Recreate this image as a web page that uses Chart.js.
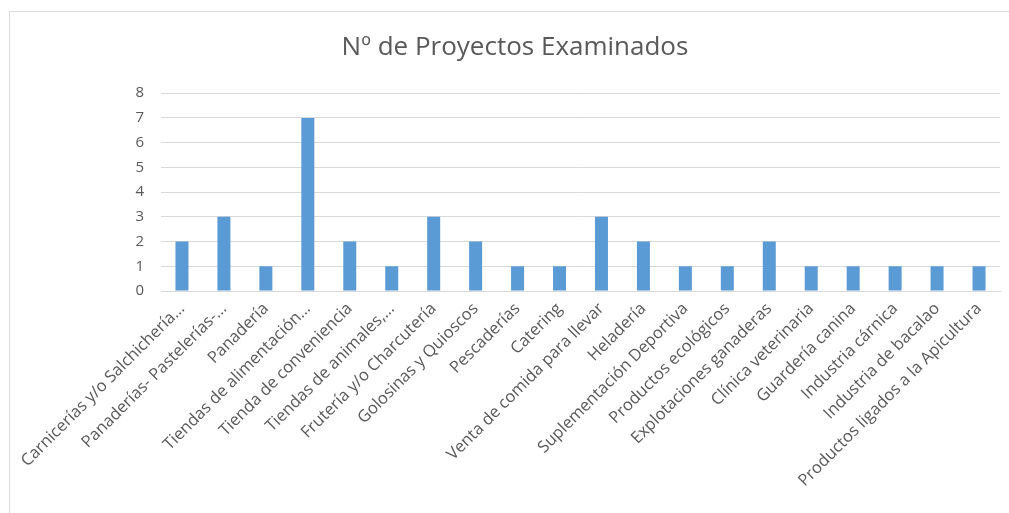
<!DOCTYPE html>
<html>
<head>
<meta charset="utf-8">
<script src="https://cdn.jsdelivr.net/npm/chart.js@4/dist/chart.umd.min.js"></script>
<style>
    body { margin: 0; background: #fff; overflow: hidden; }
    #box { position: absolute; left: 9px; top: 11px; width: 1010px; height: 510px; border: 1px solid #d9d9d9; }
    #wrap { position: absolute; left: 0; top: 0; width: 999px; height: 501px; }
</style>
</head>
<body>
<div id="box"><div id="wrap"><canvas id="chart"></canvas></div></div>
<script>
// chart data
const categories = [
    "Carnicerías y/o Salchichería…", "Panaderías- Pastelerías-…", "Panadería",
    "Tiendas de alimentación…", "Tienda de conveniencia", "Tiendas de animales,…",
    "Frutería y/o Charcutería", "Golosinas y Quioscos", "Pescaderías", "Catering",
    "Venta de comida para llevar", "Heladería", "Suplementación Deportiva",
    "Productos ecológicos", "Explotaciones ganaderas", "Clínica veterinaria",
    "Guardería canina", "Industria cárnica", "Industria de bacalao",
    "Productos ligados a la Apicultura"
];
const proyectos = [2, 3, 1, 7, 2, 1, 3, 2, 1, 1, 3, 2, 1, 1, 2, 1, 1, 1, 1, 1];
const yTicks = [0, 1, 2, 3, 4, 5, 6, 7, 8];

const FONT = "'Open Sans', 'Liberation Sans', sans-serif";
const GREY = '#595959';

new Chart(document.getElementById('chart'), {
    type: 'bar',
    data: {
        labels: categories,
        datasets: [{
            label: 'Nº de Proyectos Examinados',
            data: proyectos,
            backgroundColor: '#5b9bd5',
            barPercentage: 0.62,
            categoryPercentage: 0.5
        }]
    },
    options: {
        responsive: true,
        maintainAspectRatio: false,
        animation: false,
        // left padding pushes the title centre right, y axis width makes up for it
        layout: { padding: { left: 20, right: 9, top: 0, bottom: 0 } },
        plugins: {
            legend: { display: false },
            tooltip: { enabled: false },
            title: {
                display: true,
                text: 'Nº de Proyectos Examinados',
                color: GREY,
                font: { family: FONT, size: 26, weight: 'normal' },
                padding: { top: 20, bottom: 30 }
            }
        },
        scales: {
            x: {
                grid: { display: false, drawTicks: false },
                border: { color: '#d9d9d9' },
                ticks: {
                    color: GREY,
                    font: { family: FONT, size: 16.5 },
                    maxRotation: 45,
                    minRotation: 45,
                    autoSkip: false,
                    padding: 8
                },
                afterFit: s => { s.height = 222; }
            },
            y: {
                min: 0,
                max: 8,
                afterBuildTicks: s => { s.ticks = yTicks.map(v => ({ value: v })); },
                grid: { color: '#d9d9d9', drawTicks: false },
                border: { display: false },
                ticks: {
                    color: GREY,
                    font: { family: FONT, size: 15 },
                    padding: 17
                },
                afterFit: s => { s.width = 131; }
            }
        }
    }
});
</script>
</body>
</html>
